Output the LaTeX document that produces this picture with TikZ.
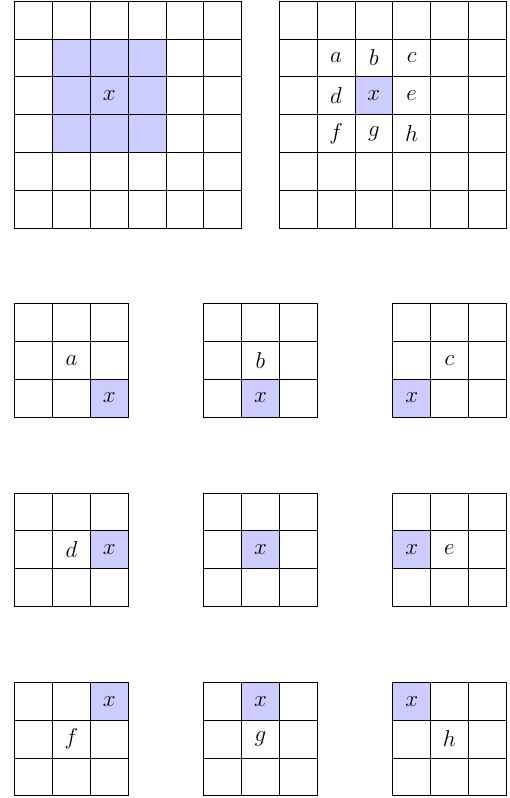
\documentclass[tikz,border=0pt]{standalone}
\newcommand{\cellgrid}[3]{% #1 origin x, #2 origin y (top), #3 size
  \foreach \i in {0,...,#3}{
    \draw[gridline] ({#1+\i},{-(#2)}) -- ({#1+\i},{-(#2)-#3});
    \draw[gridline] (#1,{-(#2)-\i}) -- ({#1+#3},{-(#2)-\i});
  }}
\newcommand{\hlcell}[2]{\fill[hl] ({#1},{-(#2)}) rectangle ({(#1)+1},{-(#2)-1});}
\begin{document}
\begin{tikzpicture}[
  gridline/.style={line width=0.6pt, line cap=rect},
  hl/.style={fill=blue!20},
  lbl/.style={font=\fontsize{16.5}{20}\selectfont, inner sep=0pt}]
\useasboundingbox (0,0) rectangle (13.466,-21.111);
% top-left big grid
\foreach \c in {1,2,3}{\foreach \r in {1,2,3}{\hlcell{0.39+\c}{0.03+\r}}}
\cellgrid{0.39}{0.03}{6}
\node[lbl] (bx) at (2.89,-2.53) {$x$};
% top-right big grid
\hlcell{9.39}{2.03}
\cellgrid{7.39}{0.03}{6}
\node[lbl] (ta) at (8.89,-1.53) {$a$};
\node[lbl] (tb) at (9.89,-1.53) {$b$};
\node[lbl] (tc) at (10.89,-1.53) {$c$};
\node[lbl] (td) at (8.89,-2.53) {$d$};
\node[lbl] (tx) at (9.89,-2.53) {$x$};
\node[lbl] (te) at (10.89,-2.53) {$e$};
\node[lbl] (tf) at (8.89,-3.53) {$f$};
\node[lbl] (tg) at (9.89,-3.53) {$g$};
\node[lbl] (th) at (10.89,-3.53) {$h$};
% small grids: row 1
\hlcell{2.39}{10.03}\cellgrid{0.39}{8.03}{3}
\node[lbl] (sa) at (1.89,-9.53) {$a$};
\node[lbl] (sax) at (2.89,-10.53) {$x$};
\hlcell{6.39}{10.03}\cellgrid{5.39}{8.03}{3}
\node[lbl] (sb) at (6.89,-9.53) {$b$};
\node[lbl] (sbx) at (6.89,-10.53) {$x$};
\hlcell{10.39}{10.03}\cellgrid{10.39}{8.03}{3}
\node[lbl] (sc) at (11.89,-9.53) {$c$};
\node[lbl] (scx) at (10.89,-10.53) {$x$};
% row 2
\hlcell{2.39}{14.04}\cellgrid{0.39}{13.04}{3}
\node[lbl] (sd) at (1.89,-14.54) {$d$};
\node[lbl] (sdx) at (2.89,-14.54) {$x$};
\hlcell{6.39}{14.04}\cellgrid{5.39}{13.04}{3}
\node[lbl] (smx) at (6.89,-14.54) {$x$};
\hlcell{10.39}{14.04}\cellgrid{10.39}{13.04}{3}
\node[lbl] (sex) at (10.89,-14.54) {$x$};
\node[lbl] (se) at (11.89,-14.54) {$e$};
% row 3
\hlcell{2.39}{18.05}\cellgrid{0.39}{18.05}{3}
\node[lbl] (sfx) at (2.89,-18.55) {$x$};
\node[lbl] (sf) at (1.89,-19.55) {$f$};
\hlcell{6.39}{18.05}\cellgrid{5.39}{18.05}{3}
\node[lbl] (sgx) at (6.89,-18.55) {$x$};
\node[lbl] (sg) at (6.89,-19.55) {$g$};
\hlcell{10.39}{18.05}\cellgrid{10.39}{18.05}{3}
\node[lbl] (shx) at (10.89,-18.55) {$x$};
\node[lbl] (sh) at (11.89,-19.55) {$h$};
\end{tikzpicture}
\end{document}
